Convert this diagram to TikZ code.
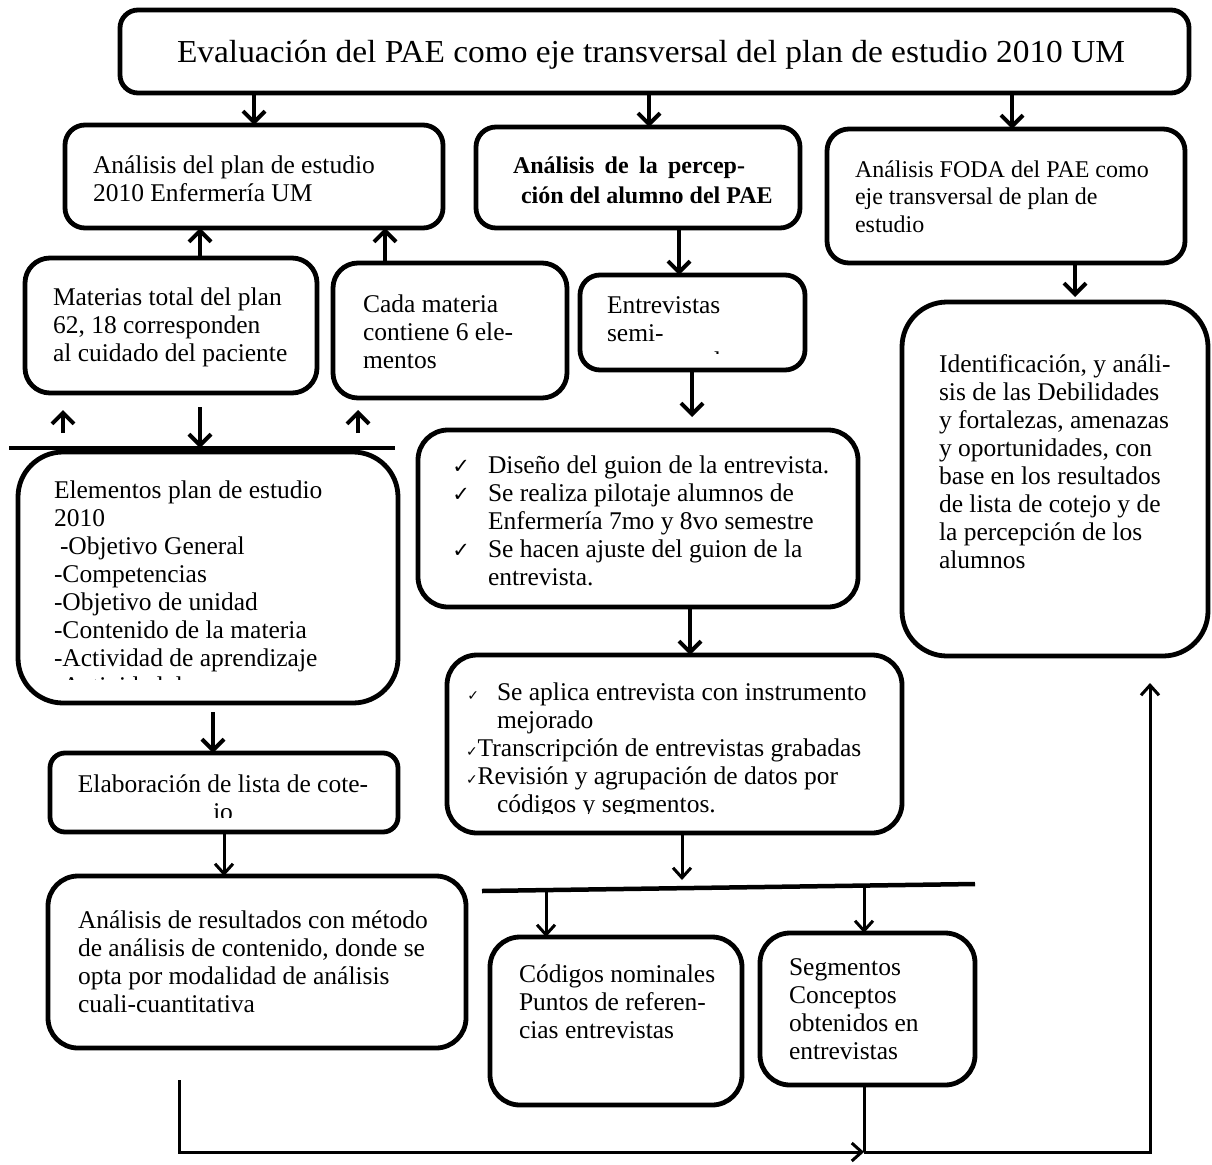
\documentclass[tikz,border=0pt]{standalone}
\usepackage{fontspec}
\setmainfont{Liberation Serif}
\newfontfamily\dejavu{DejaVu Sans}
\usepackage{graphicx}
\usetikzlibrary{arrows.meta,calc}
\newcommand\TS{\rule{0pt}{24pt}}
\newcommand\ckA{\llap{{\dejavu\fontsize{21}{21}\selectfont ✓}\hspace{18pt}}}
\newcommand\ckB{{\dejavu\fontsize{14}{14}\selectfont ✓}}
\newcommand\Bx[6]{\node[bx, rounded corners=#6pt, minimum width={(#4)-(#2)}, minimum height={(#5)-(#3)}] (#1) at ({((#2)+(#4))/2},{((#3)+(#5))/2}) {};}
\begin{document}
\begin{tikzpicture}[x=1pt,y=-1pt,
 bx/.style={draw, line width=4.8pt, fill=white, inner sep=0pt, outer sep=0pt},
 tx/.style={anchor=north west, inner sep=0pt, outer sep=0pt, align=left, font=\fontsize{25.5}{28}\selectfont},
 ar/.style={line width=4pt, -{Straight Barb[length=11pt,width=22pt]}},
 ar2/.style={line width=3pt, -{Straight Barb[length=10pt,width=18pt]}},
 bar/.style={line width=4.5pt},
 ln/.style={line width=3pt}]
\useasboundingbox (0,0) rectangle (1212,1164);
\fill[white] (0,0) rectangle (1212,1164);

% guides
\foreach \g in {63,200,213,224,254,358,385,546,649,679,682,690,692,864,1012,1075,1150}{\coordinate (g\g) at (\g,0);}

% boxes
\Bx{T}{120}{10}{1189}{93}{18}
\Bx{A}{65}{125}{443}{228}{20}
\Bx{B}{476}{127}{800}{228}{20}
\Bx{C}{827}{129}{1185}{263}{22}
\Bx{D}{902}{302}{1208}{656}{45}
\Bx{E}{25}{258}{317}{393}{25}
\Bx{F}{333}{263}{567}{398}{25}
\Bx{G}{18}{452}{398}{703}{45}
\Bx{H}{580}{275}{805}{370}{20}
\Bx{I}{418}{430}{858}{607}{30}
\Bx{J}{447}{655}{902}{833}{30}
\Bx{K}{50}{753}{398}{832}{15}
\Bx{L}{48}{876}{466}{1048}{30}
\Bx{M}{490}{937}{742}{1105}{30}
\Bx{N}{760}{933}{975}{1085}{30}

% texts
\node[anchor=base, inner sep=0pt] (tT) at (651,63) {\resizebox{948pt}{\height}{\fontsize{32}{32}\selectfont Evaluación del PAE como eje transversal del plan de estudio 2010 UM}};
\node[tx] (tA) at (93,149) {\TS Análisis del plan de estudio\\2010 Enfermería UM};
\node[tx, font=\bfseries\fontsize{24}{30}\selectfont] (tB) at (521,149) {\TS\hspace*{-8pt}\hbox to 232pt{Análisis\hfill de\hfill la\hfill percep-}\\ción del alumno del PAE};
\node[tx, font=\fontsize{24}{27.5}\selectfont] (tC) at (855,153) {\TS Análisis FODA del PAE como\\eje transversal de plan de\\estudio};
\node[tx] (tD) at (939,348) {\TS Identificación, y análi-\\sis de las Debilidades\\y fortalezas, amenazas\\y oportunidades, con\\base en los resultados\\de lista de cotejo y de\\la percepción de los\\alumnos};
\node[tx] (tE) at (53,281) {\TS Materias total del plan\\62, 18 corresponden\\al cuidado del paciente};
\node[tx] (tF) at (363,288) {\TS Cada materia\\contiene 6 ele-\\mentos};
\begin{scope}
\clip (18,452) rectangle (398,679);
\node[tx] (tG) at (54,474) {\TS Elementos plan de estudio\\2010\\\hspace*{6pt}-Objetivo General\\-Competencias\\-Objetivo de unidad\\-Contenido de la materia\\-Actividad de aprendizaje\\-Actividad de};
\end{scope}
\begin{scope}
\clip (580,275) rectangle (805,353);
\node[tx] (tH) at (607,289) {\TS Entrevistas\\semi-\\estructuradas};
\end{scope}
\node[tx] (tI) at (488,449) {\TS\ckA Diseño del guion de la entrevista.\\\ckA Se realiza pilotaje alumnos de\\Enfermería 7mo y 8vo semestre\\\ckA Se hacen ajuste del guion de la\\entrevista.};
\begin{scope}
\clip (447,655) rectangle (902,813);
\node[tx] (tJ) at (497,676) {\TS\llap{\ckB\hspace{18pt}}Se aplica entrevista con instrumento\\mejorado\\\hspace*{-31pt}\ckB Transcripción de entrevistas grabadas\\\hspace*{-31pt}\ckB Revisión y agrupación de datos por\\códigos y segmentos.};
\end{scope}
\begin{scope}
\clip (50,753) rectangle (398,817);
\node[tx, anchor=north, align=center] (tK) at (223,768) {\TS Elaboración de lista de cote-\\jo};
\end{scope}
\node[tx] (tL) at (78,904) {\TS Análisis de resultados con método\\de análisis de contenido, donde se\\opta por modalidad de análisis\\cuali-cuantitativa};
\node[tx] (tM) at (519,958) {\TS Códigos nominales\\Puntos de referen-\\cias entrevistas};
\node[tx] (tN) at (789,951) {\TS Segmentos\\Conceptos\\obtenidos en\\entrevistas};

% bars
\coordinate (a1) at (9,448);
\coordinate (a2) at (395,448);
\draw[bar] (a1) -- (a2);
\coordinate (b1) at (482,891);
\coordinate (b2) at (975,884);
\draw[bar] (b1) -- (b2);

% arrows from title
\draw[ar] (T.south -| g254) -- (A.north -| g254);
\draw[ar] (T.south -| g649) -- (B.north -| g649);
\draw[ar] (T.south -| g1012) -- (C.north -| g1012);
% upward to A
\draw[ar] (E.north -| g200) -- (A.south -| g200);
\draw[ar] (F.north -| g385) -- (A.south -| g385);
% small arrows at bar
\draw[ar] ($(a1 -| g63)+(0,-15)$) -- ($(a1 -| g63)+(0,-38)$);
\draw[ar] ($(a1 -| g358)+(0,-15)$) -- ($(a1 -| g358)+(0,-38)$);
\draw[ar] ($(E.south -| g200)+(0,14)$) -- (a1 -| g200);
% center column
\draw[ar] (B.south -| g679) -- (H.north -| g679);
\draw[ar] (H.south -| g692) -- ($(I.north -| g692)+(0,-13)$);
\draw[ar] (I.south -| g690) -- (J.north -| g690);
\draw[ar2] (J.south -| g682) -- ($(b2 -| g682)+(0,-4)$);
\draw[ar2] (b1 -| g546) -- (M.north -| g546);
\draw[ar2] (b2 -| g864) -- (N.north -| g864);
% right column
\draw[ar] (C.south -| g1075) -- ($(D.north -| g1075)+(0,-5)$);
% left column
\draw[ar] ($(G.south -| g213)+(0,9)$) -- (K.north -| g213);
\draw[ar2] (K.south -| g224) -- (L.north -| g224);
% bottom connector
\coordinate (ls) at (179,1080);
\coordinate (jn) at (864,1152);
\coordinate (de) at (1150,683);
\draw[ar2] (ls) |- (jn);
\draw[ln] (N.south -| jn) -- (jn);
\draw[ar2] (jn) -| (de);
\end{tikzpicture}
\end{document}
